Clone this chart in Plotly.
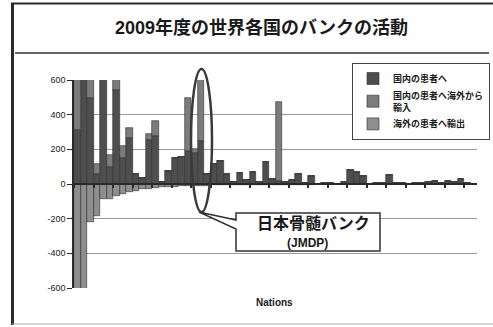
import plotly.graph_objects as go

# ---- data ----
nations = [f"N{i+1}" for i in range(62)]
domestic = [311, 900, 494, 60, 700, 100, 540, 150, 265, 56,
            33, 254, 277, 10, 75, 152, 158, 190, 180, 250,
            58, 113, 133, 56, 12, 62, 23, 71, 12, 129,
            27, 20, 12, 23, 60, 5, 48, 0, 5, 5,
            2, 10, 81, 71, 46, 0, 8, 8, 52, 8,
            8, 0, 3, 8, 13, 17, 3, 15, 13, 27,
            3, 0]
imported = [400, 0, 300, 55, 0, 67, 200, 69, 56, 0,
            0, 33, 88, 0, 0, 0, 0, 308, 22, 900,
            0, 0, 0, 0, 0, 0, 0, 0, 0, 0,
            0, 455, 0, 0, 0, 0, 0, 0, 0, 0,
            0, 0, 0, 0, 0, 0, 0, 0, 0, 0,
            0, 0, 0, 0, 0, 0, 0, 0, 0, 0,
            0, 0]
exported = [-700, -800, -217, -185, -89, -89, -69, -58, -44, -38,
            -31, -27, -23, -19, -19, -15, -14, -13, -11, -10,
            -9, -8, -8, -7, -6, -6, -5, -5, -5, -4,
            -4, -4, -3, -3, -3, -3, -3, -2, -2, -2,
            -2, -2, -2, -2, -2, -2, -2, -1, -1, -1,
            -1, -1, -1, -1, -1, -1, -1, -1, -1, -1,
            -1, 0]
series_names = ["国内の患者へ", "国内の患者へ海外から<br>輸入", "海外の患者へ輸出"]
y_tickvals = [600, 400, 200, 0, -200, -400, -600]
y_ticktext = ["600", "400", "200", "0", "-200", "-400", "-600"]
title_text = "2009年度の世界各国のバンクの活動"
callout_line1 = "日本骨髄バンク"
callout_line2 = "(JMDP)"
x_title = "Nations"

# ---- layout geometry (pixels) ----
W, H = 493, 327
L, R, T, B = 74, 477, 80, 288
PW, PH = R - L, B - T


def px(x):
    return (x - L) / PW


def py(y):
    return (B - y) / PH


FONT = "Liberation Sans, Arial, Noto Sans CJK JP, sans-serif"
JFONT = "Noto Sans CJK JP, sans-serif"
colors = ["#4e4e4e", "#7c7c7c", "#8e8e8e"]

fig = go.Figure()
for name, vals, col in zip(series_names, [domestic, imported, exported], colors):
    fig.add_trace(go.Bar(x=nations, y=vals, name=f"<b>{name}</b>",
                         marker=dict(color=col, line=dict(color="#2e2e2e", width=0.6))))

shapes = [
    # outer frame
    dict(type="line", xref="paper", yref="paper", x0=px(12.5), x1=px(12.5), y0=py(3), y1=py(325),
         line=dict(color="#2a2a2a", width=3)),
    dict(type="line", xref="paper", yref="paper", x0=px(11), x1=px(493), y0=py(3.5), y1=py(3.5),
         line=dict(color="#2a2a2a", width=2)),
    dict(type="line", xref="paper", yref="paper", x0=px(12), x1=px(493), y0=py(324), y1=py(324),
         line=dict(color="#aaaaaa", width=1)),
    # title underline
    dict(type="line", xref="paper", yref="paper", x0=px(15), x1=px(489), y0=py(53), y1=py(53),
         line=dict(color="#333333", width=1.5)),
    # ellipse around JMDP bar
    dict(type="circle", xref="paper", yref="paper", x0=px(191), x1=px(212), y0=py(212), y1=py(69),
         line=dict(color="#3a3a3a", width=2.5)),
    # callout box with wedge
    dict(type="path", xref="paper", yref="paper",
         path=(f"M {px(236)},{py(213)} L {px(380)},{py(213)} L {px(380)},{py(251)} "
               f"L {px(236)},{py(251)} L {px(236)},{py(229)} L {px(199)},{py(212)} "
               f"L {px(236)},{py(220)} Z"),
         fillcolor="white", line=dict(color="#333333", width=1.5)),
]

annotations = [
    dict(text=f"<b>{title_text}</b>", xref="paper", yref="paper", x=px(261.5), y=py(27),
         xanchor="center", yanchor="middle", showarrow=False,
         font=dict(family=FONT, size=18, color="#1a1a1a")),
    dict(text=f"<b>{callout_line1}</b>", xref="paper", yref="paper", x=px(313), y=py(222),
         xanchor="center", yanchor="middle", showarrow=False,
         font=dict(family=JFONT, size=16, color="#1a1a1a")),
    dict(text=f"<b>{callout_line2}</b>", xref="paper", yref="paper", x=px(307), y=py(243),
         xanchor="center", yanchor="middle", showarrow=False,
         font=dict(family=FONT, size=12, color="#1a1a1a")),
    dict(text=f"<b>{x_title}</b>", xref="paper", yref="paper", x=px(274), y=py(302),
         xanchor="center", yanchor="middle", showarrow=False,
         font=dict(family=FONT, size=10, color="#1a1a1a")),
]

fig.update_layout(
    width=W, height=H, autosize=False,
    margin=dict(l=L, r=W - R, t=T, b=H - B, pad=0, autoexpand=False),
    paper_bgcolor="white", plot_bgcolor="white",
    barmode="relative", bargap=0,
    showlegend=True,
    legend=dict(x=px(490), y=py(63), xanchor="right", yanchor="top",
                bgcolor="white", bordercolor="#444444", borderwidth=1,
                font=dict(family=JFONT, size=9, color="#1a1a1a"),
                tracegroupgap=0, itemwidth=30, traceorder="normal"),
    shapes=shapes, annotations=annotations,
    xaxis=dict(type="category", showticklabels=False, anchor="free", position=0.5,
               showline=True, linecolor="#2a2a2a", linewidth=1.5,
               ticks="outside", ticklen=3, tickwidth=2, tickcolor="#2a2a2a",
               tickson="boundaries", showgrid=False, zeroline=False),
    yaxis=dict(range=[-600, 600], tickvals=y_tickvals, ticktext=y_ticktext,
               showgrid=True, gridcolor="#9a9a9a", gridwidth=1,
               zeroline=True, zerolinecolor="#2a2a2a", zerolinewidth=1.5,
               showline=True, linecolor="#2a2a2a", linewidth=1.5,
               ticks="outside", ticklen=5, tickcolor="#2a2a2a",
               tickfont=dict(family=FONT, size=9, color="#1a1a1a")),
)

fig.write_html("out.html")
